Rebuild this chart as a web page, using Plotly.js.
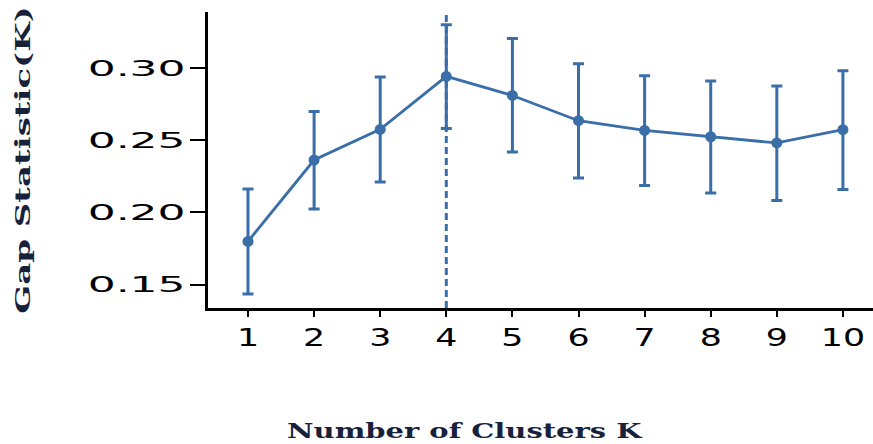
<!DOCTYPE html>
<html><head><meta charset="utf-8">
<script src="https://cdn.plot.ly/plotly-3.0.1.min.js"></script>
<style>
html,body{margin:0;padding:0;background:#fff;}
#chart{width:873px;height:444px;}
#chart g.xtick{transform-box:fill-box;transform-origin:center;transform:scaleX(1.45);}
#chart g.ytick{transform-box:fill-box;transform-origin:right center;transform:scaleX(2.0);}
#chart g.g-xtitle{transform-box:fill-box;transform-origin:center;transform:translateX(-76px) scaleX(1.45);}
#chart g.g-ytitle{transform-box:fill-box;transform-origin:center;transform:translateX(5px) scaleY(1.7);}
</style>
</head><body><div id="chart"></div>
<script>
const clusters = [1, 2, 3, 4, 5, 6, 7, 8, 9, 10];
const gapValues = [0.1799, 0.2363, 0.2575, 0.2942, 0.2810, 0.2635, 0.2568, 0.2524, 0.2481, 0.2573];
const errUpper = [0.0363, 0.0336, 0.0363, 0.0358, 0.0395, 0.0395, 0.0379, 0.0386, 0.0394, 0.0408];
const errLower = [0.0364, 0.0339, 0.0364, 0.0360, 0.0392, 0.0397, 0.0381, 0.0390, 0.0398, 0.0414];
const xTickLabels = ['1', '2', '3', '4', '5', '6', '7', '8', '9', '10'];
const yTickValues = [0.15, 0.20, 0.25, 0.30];
const yTickLabels = ['0.15', '0.20', '0.25', '0.30'];
const optimalK = 4;
const xTitle = 'Number of Clusters K';
const yTitle = 'Gap Statistic(K)';

const blue = '#3a6ea8';
const titleFont = {family: 'DejaVu Serif', size: 20, weight: 'bold', color: '#17223a'};

const trace = {
  type: 'scatter',
  mode: 'lines+markers',
  x: clusters,
  y: gapValues,
  line: {color: blue, width: 2.8},
  marker: {color: blue, size: 11},
  error_y: {type: 'data', symmetric: false, array: errUpper, arrayminus: errLower,
            color: blue, thickness: 3, width: 5.5},
  showlegend: false,
  hoverinfo: 'x+y'
};

const layout = {
  width: 873, height: 444,
  margin: {l: 208, r: 0, t: 12, b: 136},
  paper_bgcolor: '#fff', plot_bgcolor: '#fff',
  xaxis: {
    range: [0.395, 10.455], tickvals: clusters, ticktext: xTickLabels,
    showgrid: false, zeroline: false, showline: true, linecolor: '#000', linewidth: 3,
    ticks: 'outside', ticklen: 6, tickwidth: 2, tickcolor: '#000',
    tickfont: {family: 'DejaVu Sans', size: 24, color: '#000'},
    title: {text: xTitle, font: titleFont, standoff: 74}
  },
  yaxis: {
    range: [0.1338, 0.3388], tickvals: yTickValues, ticktext: yTickLabels,
    showgrid: false, zeroline: false, showline: true, linecolor: '#000', linewidth: 3,
    ticks: 'outside', ticklen: 15, tickwidth: 2, tickcolor: '#000',
    tickfont: {family: 'DejaVu Sans', size: 22, color: '#000'},
    title: {text: yTitle, font: titleFont, standoff: 106}
  },
  shapes: [{
    type: 'line', xref: 'x', yref: 'paper', x0: optimalK, x1: optimalK, y0: 0, y1: 1,
    line: {color: blue, width: 3, dash: '7px,4px'}
  }]
};

Plotly.newPlot('chart', [trace], layout, {displayModeBar: false, staticPlot: true});
</script>
</body></html>
